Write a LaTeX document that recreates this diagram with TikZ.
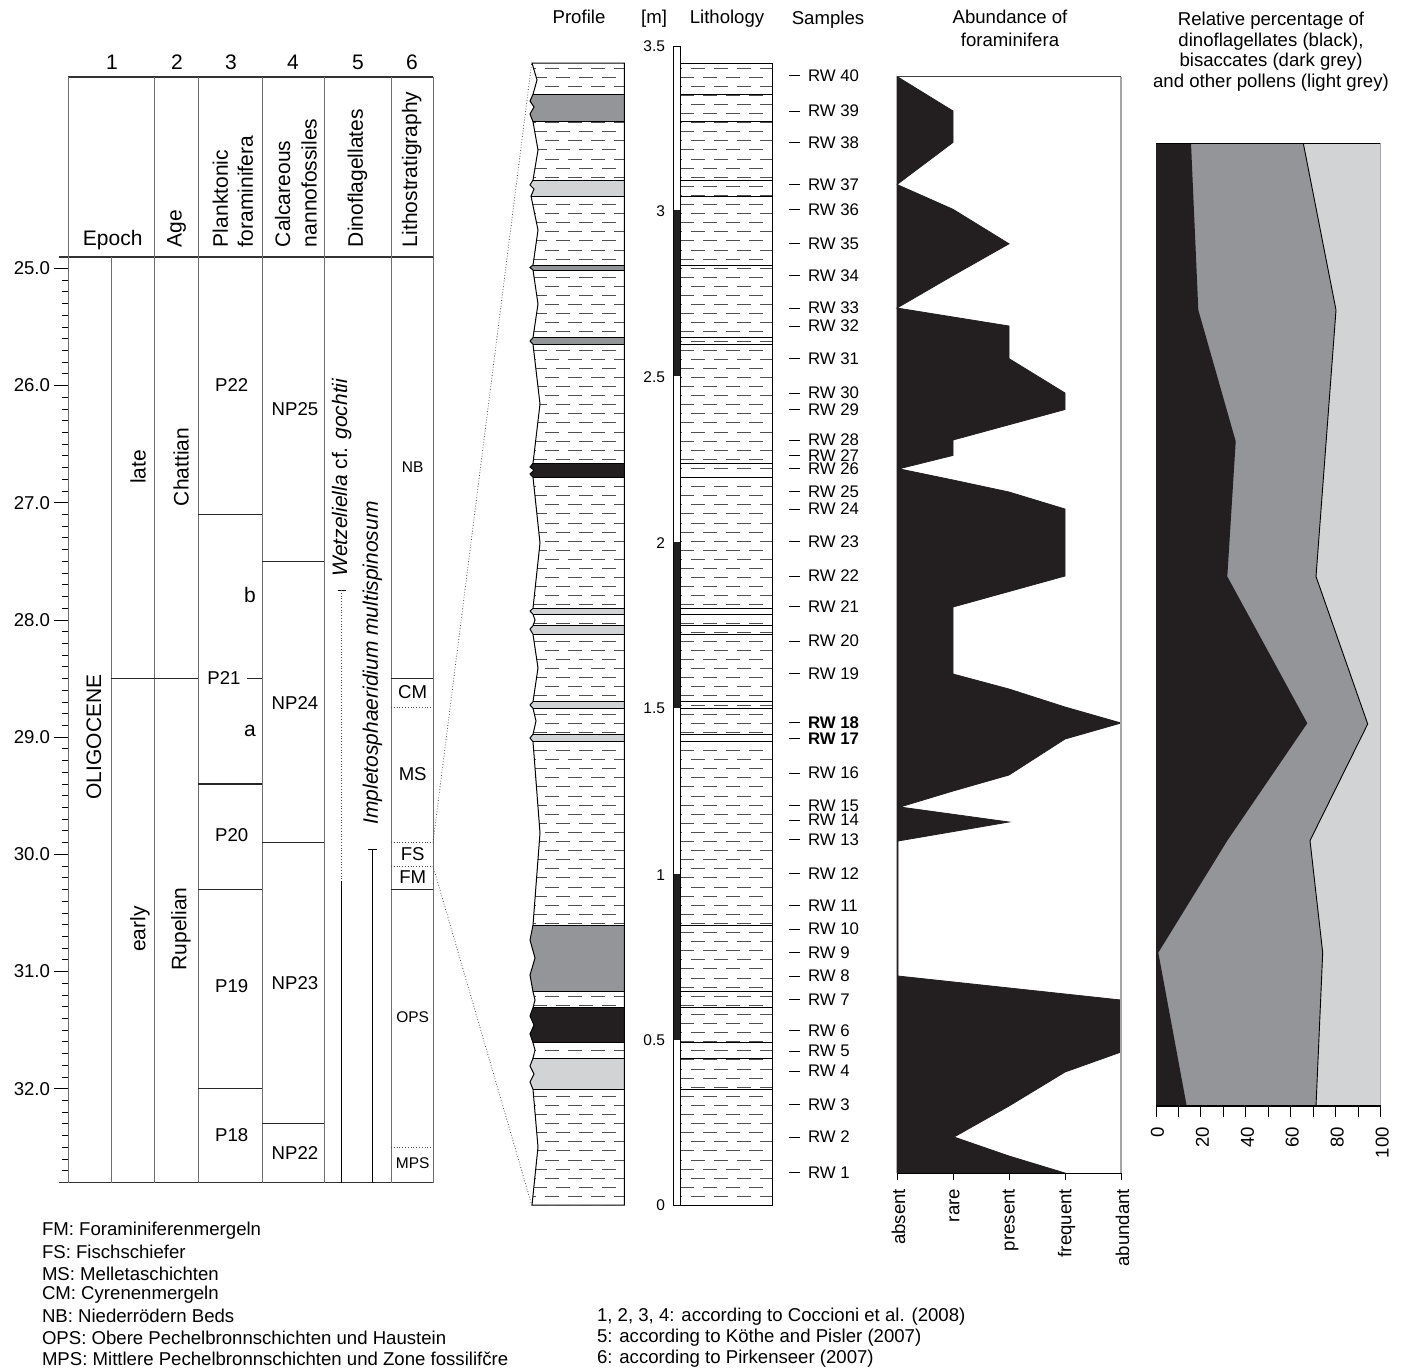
\documentclass[tikz,border=0pt]{standalone}
\usepackage{fontspec}
\setmainfont{Liberation Sans}
\definecolor{blk}{HTML}{231F20}
\definecolor{dgr}{HTML}{939598}
\definecolor{lgr}{HTML}{D1D3D4}
\definecolor{lin}{HTML}{6D6E71}
\definecolor{dsh}{HTML}{505050}
\begin{document}
\begin{tikzpicture}[x=1pt,y=-1pt,
  every node/.style={inner sep=0pt, outer sep=0pt},
  hdr/.style={font=\fontsize{21}{25}\selectfont},
  lab/.style={font=\fontsize{18.6}{22}\selectfont},
  sml/.style={font=\fontsize{15.5}{18}\selectfont},
  rwl/.style={font=\fontsize{16.8}{20}\selectfont, anchor=west},
  gridln/.style={draw=lin, line width=0.8},
  zone/.style={line width=1.1, draw=black!85},
  dotz/.style={line width=0.8, dotted, draw=black!70},
  dashln/.style={draw=dsh, line width=1.0, dash pattern=on 14pt off 9pt},
  bnd/.style={line width=1.0, draw=black}]
\useasboundingbox (0,0) rectangle (1408,1369);

% ================= left chart =================
\node[hdr,anchor=base] (c1) at (112,69.5) {1};
\node[hdr,anchor=base] (c2) at (177,69.5) {2};
\node[hdr,anchor=base] (c3) at (231,69.5) {3};
\node[hdr,anchor=base] (c4) at (293,69.5) {4};
\node[hdr,anchor=base] (c5) at (358,69.5) {5};
\node[hdr,anchor=base] (c6) at (412,69.5) {6};

\draw[line width=1.3, draw=black!80] (68,77) -- (433,77);
\draw[line width=1.3, draw=black!80] (59,257) -- (433,257);
\draw[line width=1.3, draw=black!80] (59,1182.5) -- (433,1182.5);
\foreach \x in {68,154.5,198,262,324,391,433} \draw[gridln] (\x,77) -- (\x,1182.5);
\draw[gridln] (111,257) -- (111,1182.5);

\foreach \i in {0,...,77} \draw[line width=0.8] (62,{268.3+\i*11.72}) -- (68,{268.3+\i*11.72});
\foreach \i/\l in {0/25.0,1/26.0,2/27.0,3/28.0,4/29.0,5/30.0,6/31.0,7/32.0}{
  \draw[line width=0.8] (54,{268.3+\i*117.2}) -- (68,{268.3+\i*117.2});
  \node[lab,anchor=east] (tk\i) at (50,{268.3+\i*117.2}) {\l};}

\node[hdr,anchor=base] (hEpoch) at (112.7,245) {Epoch};
\node[hdr,rotate=90,anchor=west] (hAge) at (176.7,247) {Age};
\node[hdr,rotate=90,anchor=west] (hPl1) at (220.3,247) {Planktonic};
\node[hdr,rotate=90,anchor=west] (hPl2) at (245.3,247) {foraminifera};
\node[hdr,rotate=90,anchor=west] (hCa1) at (282.5,247) {Calcareous};
\node[hdr,rotate=90,anchor=west] (hCa2) at (309.2,247) {nannofossiles};
\node[hdr,rotate=90,anchor=west] (hDi) at (357.5,247) {Dinoflagellates};
\node[hdr,rotate=90,anchor=west] (hLi) at (411.7,247) {Lithostratigraphy};

\node[hdr,rotate=90] (oli) at (94,737) {OLIGOCENE};
\node[hdr,rotate=90] (late) at (138,467) {late};
\node[hdr,rotate=90] (early) at (140,929) {early};
\node[hdr,rotate=90] (chat) at (181,467) {Chattian};
\node[hdr,rotate=90] (rup) at (181,929) {Rupelian};
\draw[zone] (111,678.2) -- (198,678.2);

\node[lab] (p22) at (231.7,385) {P22};
\draw[zone] (198,514.4) -- (262,514.4);
\node[hdr] (pb) at (250,595) {b};
\node[lab] (p21) at (224,678.2) {P21};
\draw[zone] (246.7,678.2) -- (262,678.2);
\node[hdr] (pa) at (250,731) {a};
\draw[zone] (198,784) -- (262,784);
\node[lab] (p20) at (231.7,835) {P20};
\draw[zone] (198,889.5) -- (262,889.5);
\node[lab] (p19) at (231.7,986) {P19};
\draw[zone] (198,1088.7) -- (262,1088.7);
\node[lab] (p18) at (231.7,1134.6) {P18};

\node[lab] (np25) at (295,409) {NP25};
\draw[zone] (262,561.3) -- (324,561.3);
\node[lab] (np24) at (295,702.5) {NP24};
\draw[zone] (262,842.6) -- (324,842.6);
\node[lab] (np23) at (295,983) {NP23};
\draw[zone] (262,1123.9) -- (324,1123.9);
\node[lab] (np22) at (295,1152.5) {NP22};

\node[hdr,rotate=90] (wet) at (341.7,477.5) {\itshape Wetzeliella \upshape cf. \itshape gochtii};
\draw[line width=0.8] (337.5,590) -- (346,590);
\draw[dotz] (341.7,590) -- (341.7,881);
\draw[line width=0.8] (341.7,881) -- (341.7,1182.5);
\node[hdr,rotate=90] (imp) at (372.5,663) {\itshape Impletosphaeridium multispinosum};
\draw[line width=0.8] (368.3,849) -- (377,849);
\draw[line width=0.8] (372.7,849) -- (372.7,1182.5);

\node[sml] (nb) at (412.7,467) {NB};
\draw[zone] (391,678.2) -- (433,678.2);
\node[lab] (cm) at (412.7,692.5) {CM};
\draw[dotz] (391,707.6) -- (433,707.6);
\node[lab] (ms) at (412.7,774) {MS};
\draw[dotz] (391,842.6) -- (433,842.6);
\node[lab] (fs) at (412.7,854.5) {FS};
\draw[dotz] (391,866) -- (433,866);
\node[lab] (fm) at (412.7,877.5) {FM};
\draw[zone] (391,889.5) -- (433,889.5);
\node[sml] (ops) at (412.7,1017) {OPS};
\draw[dotz] (391,1147.3) -- (433,1147.3);
\node[sml] (mps) at (412.7,1163.5) {MPS};

\coordinate (msfs) at (433,842.6);
\coordinate (fsfm) at (433,866);
\coordinate (prtop) at (531.7,63);
\coordinate (prbot) at (531.7,1205);
\draw[dotz] (msfs) -- (prtop);
\draw[dotz] (fsfm) -- (prbot);

% ================= titles =================
\node[lab,anchor=base] (tProf) at (579,23.5) {Profile};
\node[lab,anchor=base] (tM) at (654,23.5) {[m]};
\node[lab,anchor=base] (tLith) at (727,23.5) {Lithology};
\node[lab,anchor=base] (tSam) at (828,24) {Samples};
\node[lab,anchor=base] (tAb1) at (1010,23.5) {Abundance of};
\node[lab,anchor=base] (tAb2) at (1010,46) {foraminifera};
\node[lab,anchor=base] (tR1) at (1271,25) {Relative percentage of};
\node[lab,anchor=base] (tR2) at (1271,46) {dinoflagellates (black),};
\node[lab,anchor=base] (tR3) at (1271,66.5) {bisaccates (dark grey)};
\node[lab,anchor=base] (tR4) at (1271,87) {and other pollens (light grey)};

% ================= profile =================
\def\profpath{(532,63) -- (537,80) -- (533,94.3)
 -- (530,101) -- (534,107) -- (530,114) -- (533,121.7)
 -- (538,150) -- (533,180) -- (530,185) -- (534,189) -- (531,196)
 -- (538,230) -- (533,265) -- (530,267.5) -- (533,270)
 -- (538,304) -- (533,337.7) -- (530,341) -- (533,344.3)
 -- (540,404) -- (533,463.3) -- (530,467) -- (534,470) -- (530,474) -- (533,477.3)
 -- (540,543) -- (533,608.3) -- (530,611) -- (533,614.3)
 -- (535,620) -- (533,625.7) -- (530,629) -- (533,634.3)
 -- (538,668) -- (533,701.7) -- (530,705) -- (533,708.3)
 -- (536,721) -- (533,734.3) -- (530,738) -- (533,741.7)
 -- (540,833) -- (533,925) -- (530,940) -- (535,958) -- (530,975) -- (533,991.7)
 -- (535,1000) -- (533,1007.7) -- (530,1016) -- (534,1025) -- (530,1034) -- (533,1042.7)
 -- (535,1050) -- (533,1058.3) -- (530,1066) -- (534,1074) -- (530,1082) -- (533,1089.3)
 -- (538,1147) -- (532,1205) -- (624.3,1205) -- (624.3,63) -- cycle}
\fill[white] \profpath;
\begin{scope}
  \clip \profpath;
  \foreach \k in {0,...,125}{
    \pgfmathsetmacro\yy{68+\k*9.1}
    \pgfmathsetmacro\ph{mod(\k,2)*12}
    \draw[dashln, dash phase=\ph pt] (522,\yy) -- (630,\yy);}
  \foreach \a/\b in {94.3/121.7,265/270,337.7/344.3,925/991.7} \fill[dgr] (520,\a) rectangle (630,\b);
  \foreach \a/\b in {180/196,608.3/614.3,625.7/634.3,701.7/708.3,734.3/741.7,1058.3/1089.3} \fill[lgr] (520,\a) rectangle (630,\b);
  \foreach \a/\b in {463.3/477.3,1007.7/1042.7} \fill[blk] (520,\a) rectangle (630,\b);
  \foreach \yy in {94.3,121.7,180,196,265,270,337.7,344.3,463.3,477.3,608.3,614.3,625.7,634.3,701.7,708.3,734.3,741.7,925,991.7,1007.7,1042.7,1058.3,1089.3}
    \draw[bnd] (520,\yy) -- (630,\yy);
\end{scope}
\draw[line width=1.0] \profpath;

% ================= scale bar =================
\draw[line width=0.8, fill=white] (673,46) rectangle (680,1205);
\foreach \a/\b in {210/376,542/708,874/1040} \fill[blk] (673,\a) rectangle (680,\b);
\draw[line width=0.8] (673,46) rectangle (680,1205);
\foreach \yy/\l [count=\i] in {46/3.5,211/3,377/2.5,543/2,708/1.5,875/1,1040/0.5,1205/0}
  \node[sml,anchor=east] (sb\i) at (665,\yy) {\l};

% ================= lithology =================
\begin{scope}
  \clip (680,63) rectangle (772,1205);
  \foreach \k in {0,...,125}{
    \pgfmathsetmacro\yy{68+\k*9.1}
    \pgfmathsetmacro\ph{mod(\k+1,2)*12}
    \draw[dashln, dash phase=\ph pt] (680,\yy) -- (775,\yy);}
\end{scope}
\foreach \yy in {94.3,121.7,180,196,265,337.7,344.3,463.3,477.3,608.3,614.3,625.7,634.3,701.7,708.3,734.3,741.7,925,991.7,1007.7,1042.7,1058.3,1089.3}
  \draw[bnd] (680,\yy) -- (772,\yy);
\draw[line width=1.0] (680,63) rectangle (772,1205);

% ================= samples =================
\foreach \n/\yy in {40/75.8,39/111,38/142.4,37/184.5,36/209.3,35/243.8,34/275.5,33/308,32/326,31/358.6,30/393,29/409.5,28/440,27/455.4,26/468.8,25/491.8,24/509,23/541.5,22/576,21/606.8,20/641,19/673.8,16/773,15/805.4,14/820,13/839.8,12/873.3,11/905.9,10/929,9/952.8,8/976,7/999.6,6/1030.9,5/1051,4/1071,3/1104.5,2/1137,1/1172.8}{
  \draw[line width=1] (789,\yy) -- (800,\yy);
  \node[rwl] (rw\n) at (808,\yy) {RW \n};}
\draw[line width=1] (789,722.9) -- (800,722.9);
\node[rwl] (rw18) at (808,722.9) {\bfseries RW 18};
\draw[line width=1] (789,738.5) -- (800,738.5);
\node[rwl] (rw17) at (808,738.5) {\bfseries RW 17};

% ================= abundance =================
\filldraw[fill=blk, draw=blk, line width=0.8] (897,76.5) -- (953,111) -- (953,142.4) -- (897,184.5)
 -- (953,209.3) -- (1009,243.8) -- (953,275.5) -- (897,308) -- (1009,326) -- (1009,358.6)
 -- (1065,393) -- (1065,409.5) -- (953,440) -- (953,455.4) -- (899,468.8) -- (953,480)
 -- (1009,492) -- (1065,509) -- (1065,541.5) -- (1065,576) -- (953,607) -- (953,641)
 -- (953,674) -- (1009,689) -- (1065,707) -- (1121,723) -- (1065,739) -- (1009,775)
 -- (953,791) -- (900,807) -- (1009,822) -- (898,841) -- (898,976) -- (1121,1000)
 -- (1121,1052) -- (1065,1072) -- (1009,1106) -- (954,1137) -- (1009,1156) -- (1065,1173)
 -- (897,1173) -- cycle;
\draw[line width=1, draw=black!75] (897,76.5) -- (1121,76.5);
\draw[line width=1.2, draw=black!35] (1121,76.5) -- (1121,1173);
\draw[line width=1] (897,1173) -- (1121,1173);
\foreach \x/\l [count=\i] in {897/absent,953/rare,1009/present,1065/frequent,1121/abundant}{
  \draw[line width=1] (\x,1173) -- (\x,1180);
  \node[lab,rotate=90,anchor=east] (ax\i) at (\x+1.5,1189) {\l};}

% ================= pollen =================
\fill[lgr] (1156,143.3) rectangle (1380.7,1106);
\fill[dgr] (1156,143.3) -- (1303.3,143.3) -- (1336,310) -- (1316,576.5) -- (1367.7,724)
 -- (1310,840.6) -- (1322.7,952.6) -- (1316,1106) -- (1156,1106) -- cycle;
\draw[line width=0.9] (1303.3,143.3) -- (1336,310) -- (1316,576.5) -- (1367.7,724)
 -- (1310,840.6) -- (1322.7,952.6) -- (1316,1106);
\fill[blk] (1156,143.3) -- (1191,143.3) -- (1198.3,310) -- (1235.7,441.3) -- (1227.3,576.5)
 -- (1307.3,723.2) -- (1227.3,840.6) -- (1158.3,952.6) -- (1186.7,1106) -- (1156,1106) -- cycle;
\draw[line width=1.1] (1156,143.3) -- (1380.7,143.3);
\draw[line width=1.2, draw=black!35] (1380.7,143.3) -- (1380.7,1106);
\draw[line width=1.1] (1156,1106) -- (1380.7,1106);
\foreach \i in {0,...,10} \draw[line width=1] ({1156+\i*22.47},1106) -- ({1156+\i*22.47},1117);
\foreach \i/\l in {0/0,2/20,4/40,6/60,8/80,10/100}
  \node[lab,rotate=90,anchor=east] (pc\i) at ({1157.5+\i*22.47},1127) {\l};

% ================= legends =================
\foreach \l [count=\i from 0] in {FM: Foraminiferenmergeln,FS: Fischschiefer,MS: Melletaschichten,CM: Cyrenenmergeln,NB: Niederrödern Beds,OPS: Obere Pechelbronnschichten und Haustein,MPS: Mittlere Pechelbronnschichten und Zone fossilifčre}
  \node[lab,anchor=west] (lg\i) at (42,{1231+\i*21.3}) {\l};
\node[lab,anchor=west] (rf1) at (597,1316.2) {1, 2, 3, 4: according to Coccioni et al. (2008)};
\node[lab,anchor=west] (rf2) at (597,1337.5) {5: according to Köthe and Pisler (2007)};
\node[lab,anchor=west] (rf3) at (597,1358.8) {6: according to Pirkenseer (2007)};
\end{tikzpicture}
\end{document}
